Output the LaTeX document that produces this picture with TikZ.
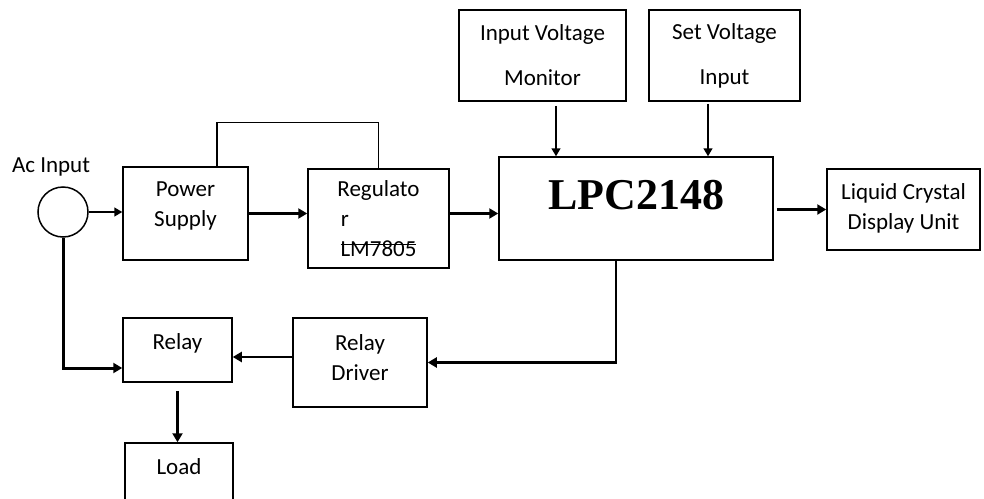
\documentclass[tikz,border=0pt]{standalone}
\usepackage{fontspec}
\setmainfont{Carlito}
\newfontfamily\lpcfont{Liberation Serif}
\usetikzlibrary{arrows.meta,calc}
\newcommand{\strk}[1]{\setbox0\hbox{#1}\rlap{\rule[5.5pt]{\wd0}{0.5pt}}\box0}

\begin{document}
\begin{tikzpicture}[x=0.5pt, y=-0.5pt, font=\fontsize{11.5}{15}\selectfont,
  box/.style={draw,line width=0.75pt,inner sep=0pt,align=center},
  arr/.style={line width=0.75pt,-{Triangle[length=4pt,width=4.5pt]}},
  heavy/.style={line width=1.5pt,-{Triangle[length=4.5pt,width=5pt]}}]
\clip (0,0) rectangle (984,498);
% source
\node[draw,circle,minimum size=25pt,inner sep=0pt,line width=0.75pt] (ac) at (63,212){};
\node (aclbl) at (51,167){Ac Input};
% blocks
\node[box,minimum width=62.5pt,minimum height=46.5pt,text depth=9pt] (power) at (185.5,213.5){Power\\Supply};
\node[box,minimum width=70.5pt,minimum height=49.5pt] (reg) at (378.5,218.5){Regulato\\r\rule{33.5pt}{0pt}\\\strk{LM7805}};
\node[box,minimum width=137pt,minimum height=51.5pt,text depth=13.5pt,font=\lpcfont\bfseries\fontsize{22}{26}\selectfont] (lpc) at (636,208.5){LPC2148};
\node[box,minimum width=76.5pt,minimum height=40.5pt,text depth=3pt] (lcd) at (903.5,209.5){Liquid Crystal\\Display Unit};
\node[box,minimum width=83.5pt,minimum height=45.5pt] (ivm) at (542.5,55.5){Input Voltage\\[7.5pt]Monitor};
\node[box,minimum width=75.5pt,minimum height=45.5pt] (svi) at (724.5,55.5){Set Voltage\\[7.5pt]Input};
\node[box,minimum width=67pt,minimum height=44.5pt,text depth=4.5pt] (drv) at (360,362.5){Relay\\Driver};
\node[box,minimum width=54.5pt,minimum height=32pt,text depth=8.5pt] (relay) at (177.5,350){Relay};
\node[box,minimum width=54pt,minimum height=29pt,text depth=5pt] (load) at (179,472){Load};
% links
\coordinate (ivmout) at ([xshift=6.75pt,yshift=-2pt]ivm.south);
\coordinate (sviout) at ([xshift=-8.25pt,yshift=-1pt]svi.south);
\coordinate (drvin) at ([yshift=-3.5pt]relay.east);
\draw[arr] (ac.east) -- (power.west |- ac.east);
\draw[heavy] (power.east) -- (reg.west |- power.east);
\draw[heavy] (reg.east |- power.east) -- (lpc.west |- power.east);
\draw[line width=0.75pt] ([xshift=15.75pt]power.north) -- ++(0,-44) -| (reg.north);
\draw[arr] (ivmout) -- (ivmout |- lpc.north);
\draw[arr] (sviout) -- (sviout |- lpc.north);
\draw[heavy,line width=1.2pt] ([xshift=1.5pt]lpc.east |- lcd.west) -- (lcd.west);
\draw[heavy,line width=1.2pt] ([xshift=-10pt]lpc.south) |- (drv.east);
\draw[heavy,line width=1.2pt] (drv.west |- drvin) -- (drvin);
\draw[heavy] (ac.south) |- ([yshift=-9pt]relay.west);
\draw[heavy,line width=1.2pt] ([yshift=-4pt]relay.south) -- (relay.south |- load.north);
\end{tikzpicture}
\end{document}
